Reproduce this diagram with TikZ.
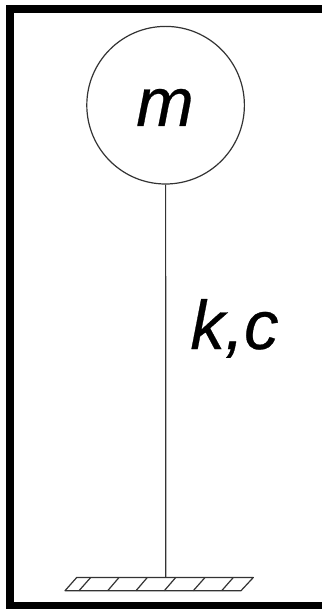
\documentclass[tikz,border=0pt]{standalone}
\usepackage{fontspec}
\setmainfont{Liberation Sans}
\begin{document}
\begin{tikzpicture}[x=1pt,y=-1pt,
  thinline/.style={draw=black!80,line width=1.2pt},
  bigtext/.style={inner sep=0pt,anchor=base,font=\fontsize{69}{69}\selectfont\itshape\addfontfeature{FakeBold=0.4}},
  massbody/.style={circle,draw=black!80,line width=1.2pt,minimum size=157.6pt,inner sep=0pt}]
\useasboundingbox (0,0) rectangle (322,609);
\fill[white] (0,0) rectangle (322,609);
\fill[black] (6,5) rectangle (322,13);
\fill[black] (6,5) rectangle (14,609);
\fill[black] (6,601.5) rectangle (322,609);
\node[massbody] (mass) at (165.6,105.2) {};
\node[bigtext] (mlabel) at (165,126) {m};
\node[bigtext] (kclabel) at (234.5,349) {k,c};
\coordinate (base) at (165.8,577.5);
\draw[thinline] (mass.south) -- (base);
\draw[thinline,line join=round] (76.7,577.5) -- (253.3,577.5) -- (241,590.7) -- (65,590.7) -- cycle;
\foreach \t/\b in {90.7/79,119/107.7,147.3/136,175.7/164.3,205/193.3,233.3/221.7}
  \draw[thinline] (\t,577.5) -- (\b,590.7);
\end{tikzpicture}
\end{document}
